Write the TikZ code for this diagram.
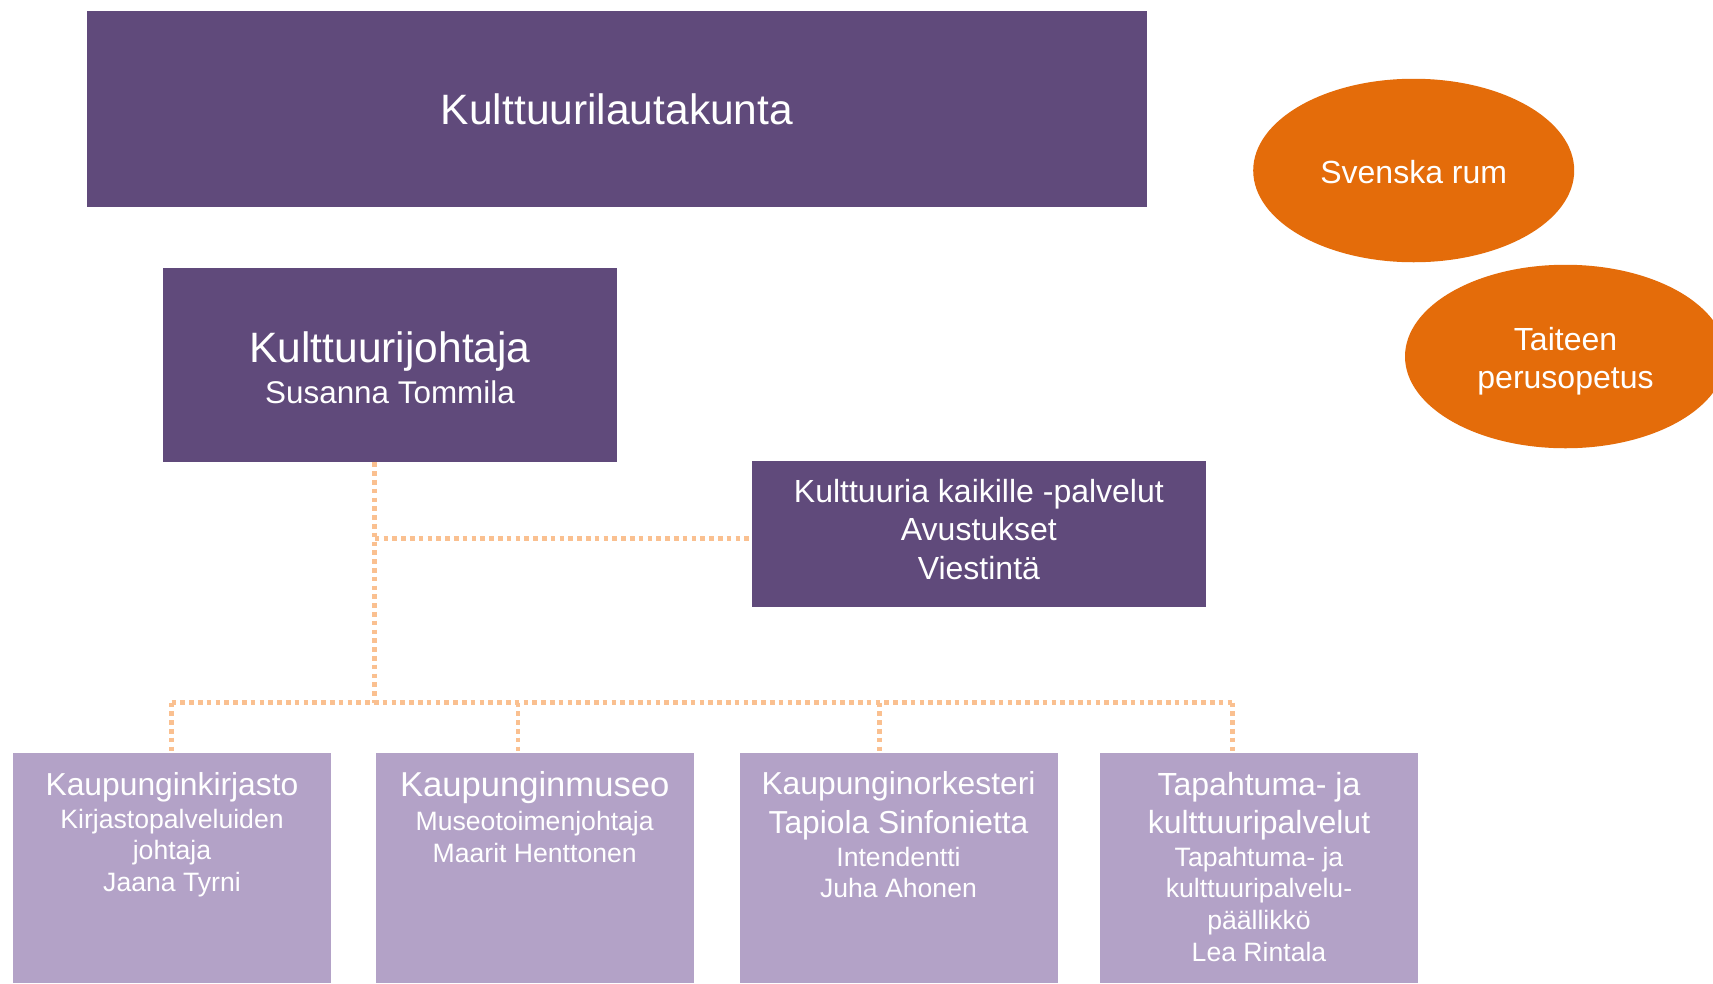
\documentclass[tikz,border=0pt]{standalone}
\usepackage{fontspec}
\setmainfont{Liberation Sans}
\usetikzlibrary{shapes.geometric}
\definecolor{darkpurple}{HTML}{604A7B}
\definecolor{lightpurple}{HTML}{B3A2C7}
\definecolor{orangefill}{HTML}{E46C0A}
\definecolor{dotorange}{HTML}{FAC090}
\begin{document}
\begin{tikzpicture}[x=1pt,y=-1pt,
 darkbox/.style={fill=darkpurple, draw=none, inner sep=0pt},
 lightbox/.style={fill=lightpurple, draw=none, inner sep=0pt, minimum width=318pt, minimum height=230.3pt},
 oval/.style={ellipse, fill=orangefill, draw=none, minimum width=321pt, minimum height=183.5pt, inner sep=0pt},
 txt/.style={text=white, anchor=base, inner sep=0pt},
 big/.style={font=\fontsize{42.5}{51}\selectfont},
 title/.style={font=\fontsize{32}{38}\selectfont},
 sub/.style={font=\fontsize{26.6}{32}\selectfont},
 dotline/.style={draw=dotorange, line width=4.8pt, dash pattern=on 4.6pt off 4.2pt}
]
\useasboundingbox[fill=white] (0,0) rectangle (1713,983);

% top board
\node[darkbox, minimum width=1059.6pt, minimum height=195.6pt] (board) at (617.2,108.7) {};
\node[txt,big] (boardT) at (617,124.8) {Kulttuurilautakunta};

% director
\node[darkbox, minimum width=454.5pt, minimum height=194.4pt] (dir) at (390,364.9) {};
\node[txt,big] (dirT) at (390,362.7) {Kulttuurijohtaja};
\node[txt,font=\fontsize{31.4}{38}\selectfont] (dirN) at (390,403) {Susanna Tommila};

% services box
\node[darkbox, minimum width=454.5pt, minimum height=146.4pt] (svc) at (978.9,534.2) {};
\node[txt,title] (svc1) at (978.9,502.5) {Kulttuuria kaikille -palvelut};
\node[txt,title] (svc2) at (978.9,540.8) {Avustukset};
\node[txt,title] (svc3) at (978.9,579) {Viestintä};

% ellipses
\node[oval] (sv) at (1413.7,170.5) {};
\node[txt,title] (svT) at (1413.7,183.5) {Svenska rum};
\node[oval] (tp) at (1565.5,356.5) {};
\node[txt,title] (tp1) at (1565.5,350) {Taiteen};
\node[txt,title] (tp2) at (1565.5,388) {perusopetus};

% bottom boxes
\node[lightbox] (lib) at (172,867.85) {};
\node[txt,font=\fontsize{31.8}{38}\selectfont] (lib1) at (172,795) {Kaupunginkirjasto};
\node[txt,sub] (lib2) at (172,828) {Kirjastopalveluiden};
\node[txt,sub] (lib3) at (172,859.5) {johtaja};
\node[txt,sub] (lib4) at (172,891) {Jaana Tyrni};

\node[lightbox] (mus) at (534.7,867.85) {};
\node[txt,font=\fontsize{34.6}{41}\selectfont] (mus1) at (534.7,796.8) {Kaupunginmuseo};
\node[txt,sub] (mus2) at (534.7,830) {Museotoimenjohtaja};
\node[txt,sub] (mus3) at (534.7,862.7) {Maarit Henttonen};

\node[lightbox] (orc) at (898.5,867.85) {};
\node[txt,font=\fontsize{31.8}{38}\selectfont] (orc1) at (898.5,794.8) {Kaupunginorkesteri};
\node[txt,font=\fontsize{31.8}{38}\selectfont] (orc2) at (898.5,833) {Tapiola Sinfonietta};
\node[txt,sub] (orc3) at (898.5,866) {Intendentti};
\node[txt,sub] (orc4) at (898.5,897.7) {Juha Ahonen};

\node[lightbox] (evt) at (1259,867.85) {};
\node[txt,title] (evt1) at (1259,795) {Tapahtuma- ja};
\node[txt,title] (evt2) at (1259,833) {kulttuuripalvelut};
\node[txt,sub] (evt3) at (1259,866) {Tapahtuma- ja};
\node[txt,sub] (evt4) at (1259,897.7) {kulttuuripalvelu-};
\node[txt,sub] (evt5) at (1259,929.4) {päällikkö};
\node[txt,sub] (evt6) at (1259,961) {Lea Rintala};

% connectors
\coordinate (jb) at (374.7,538.6);
\coordinate (jt) at (374.7,702.5);
\coordinate (d1) at (171.5,702.5);
\coordinate (d2) at (517.9,702.5);
\coordinate (d3) at (879.5,702.5);
\coordinate (d4) at (1232.4,702.5);
\draw[dotline] (dir.south -| jt) -- (jt);
\draw[dotline] (jb) -- (jb -| svc.west);
\draw[dotline] (d1) -- (d4);
\draw[dotline] (d1) -- (d1 |- lib.north);
\draw[dotline] (d2) -- (d2 |- mus.north);
\draw[dotline] (d3) -- (d3 |- orc.north);
\draw[dotline] (d4) -- (d4 |- evt.north);
\end{tikzpicture}
\end{document}
